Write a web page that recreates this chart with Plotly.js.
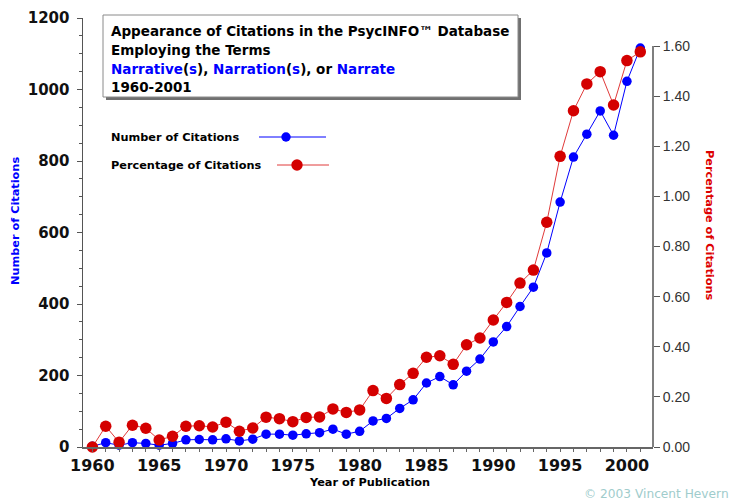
<!DOCTYPE html>
<html>
<head>
<meta charset="utf-8">
<script src="https://cdn.plot.ly/plotly-3.0.1.min.js"></script>
<style>
html,body{margin:0;padding:0;background:#fff;}
#chart{width:734px;height:500px;}
</style>
</head>
<body>
<div id="chart"></div>
<script>
// ---- data ----
var years = [1960,1961,1962,1963,1964,1965,1966,1967,1968,1969,1970,1971,1972,1973,1974,1975,1976,1977,1978,1979,1980,
             1981,1982,1983,1984,1985,1986,1987,1988,1989,1990,1991,1992,1993,1994,1995,1996,1997,1998,1999,2000,2001];
var citationCounts = [2,12,5,12,10,5,10,20,21,20,23,17,22,36,36,33,37,40,50,36,44,
                      73,80,108,132,179,197,174,212,246,294,337,393,447,543,685,811,875,940,872,1023,1116];
var citationPercents = [0.00,0.083,0.019,0.087,0.075,0.028,0.043,0.083,0.085,0.080,0.099,0.063,0.076,0.119,0.113,0.101,0.118,0.120,0.152,0.138,0.148,
                        0.225,0.194,0.249,0.294,0.358,0.364,0.330,0.408,0.435,0.507,0.577,0.654,0.706,0.897,1.160,1.342,1.449,1.498,1.365,1.542,1.577];
var xTickYears = [1960,1965,1970,1975,1980,1985,1990,1995,2000];
var leftTicks = [0,200,400,600,800,1000,1200];
var rightTicks = [0,0.2,0.4,0.6,0.8,1.0,1.2,1.4,1.6];
var seriesNames = ["Number of Citations","Percentage of Citations"];

// ---- geometry helpers (pixel -> paper) ----
var W = 734, H = 500;
var PL = 83, PR = 653, PT = 18, PB = 447;
function px(x){ return (x - PL) / (PR - PL); }
function py(y){ return (PB - y) / (PB - PT); }

var BLUE = '#0000ff', RED = '#d40000', REDLINE = '#e03a3a';
var F = 'DejaVu Sans, Verdana, sans-serif';

var traces = [
  {x: years, y: citationCounts, name: seriesNames[0], type: 'scatter', mode: 'lines+markers',
   line: {color: BLUE, width: 1}, marker: {color: BLUE, size: 9.5}, xaxis: 'x', yaxis: 'y', cliponaxis: false},
  {x: years, y: citationPercents, name: seriesNames[1], type: 'scatter', mode: 'lines+markers',
   line: {color: REDLINE, width: 1}, marker: {color: RED, size: 11.5}, xaxis: 'x', yaxis: 'y2', cliponaxis: false}
];

var shapes = [];
var annotations = [];

// title box with shadow
shapes.push({type:'rect', xref:'paper', yref:'paper', x0:px(106), x1:px(521), y0:py(100), y1:py(18),
             fillcolor:'#707070', line:{width:0}, layer:'above'});
shapes.push({type:'rect', xref:'paper', yref:'paper', x0:px(103), x1:px(518), y0:py(97), y1:py(15),
             fillcolor:'#ffffff', line:{color:'#8a8a8a', width:1}, layer:'above'});

function ann(text, x, y, opts){
  var a = {text: text, xref:'paper', yref:'paper', x: px(x), y: py(y), showarrow:false,
           xanchor:'left', yanchor:'middle', font:{family:F, size:13.5, color:'#000'}};
  for (var k in opts) a[k] = opts[k];
  annotations.push(a);
}
ann('<b>Appearance of Citations in the PsycINFO™ Database</b>', 109, 31);
ann('<b>Employing the Terms</b>', 109, 50);
var b = function(t){ return '<span style="color:#0000ff">' + t + '</span>'; };
ann('<b>' + b('Narrative') + '(' + b('s') + '), ' + b('Narration') + '(' + b('s') + '), or ' + b('Narrate') + '</b>', 109, 69);
ann('<b>1960-2001</b>', 109, 87);

// custom legend
var LF = 11.3;
ann('<b>' + seriesNames[0] + '</b>', 109, 137, {font:{family:F, size:LF, color:'#000'}});
ann('<b>' + seriesNames[1] + '</b>', 109, 165, {font:{family:F, size:LF, color:'#000'}});
shapes.push({type:'line', xref:'paper', yref:'paper', x0:px(259), x1:px(326), y0:py(137), y1:py(137), line:{color:BLUE, width:1}, layer:'above'});
shapes.push({type:'circle', xref:'paper', yref:'paper', x0:px(281.3), x1:px(290.7), y0:py(141.7), y1:py(132.3), fillcolor:BLUE, line:{width:0}, layer:'above'});
shapes.push({type:'line', xref:'paper', yref:'paper', x0:px(277), x1:px(329), y0:py(165), y1:py(165), line:{color:REDLINE, width:1}, layer:'above'});
shapes.push({type:'circle', xref:'paper', yref:'paper', x0:px(291.3), x1:px(302.7), y0:py(170.7), y1:py(159.3), fillcolor:RED, line:{width:0}, layer:'above'});

// right axis line (0 to 1.6 only)
shapes.push({type:'line', xref:'paper', yref:'y2', x0:1, x1:1, y0:0, y1:1.6, line:{color:'#555', width:1.5}});

// axis titles
ann('<b>Number of Citations</b>', 16, 221, {xanchor:'center', textangle:-90, font:{family:F, size:LF, color:BLUE}});
ann('<b>Percentage of Citations</b>', 710, 225, {xanchor:'center', textangle:90, font:{family:F, size:LF, color:'#dd0000'}});
ann('<b>Year of Publication</b>', 369, 482, {xanchor:'center', font:{family:F, size:LF, color:'#000'}});
ann('© 2003 Vincent Hevern', 731, 494, {xanchor:'right', font:{family:F, size:12.2, color:'#a0cccc'}});

var layout = {
  width: W, height: H,
  margin: {l: PL, r: W - PR, t: PT, b: H - PB, pad: 0},
  paper_bgcolor: '#fff', plot_bgcolor: 'rgba(0,0,0,0)',
  showlegend: false,
  xaxis: {range: [1959.3, 2001.95], showgrid: false, zeroline: false,
          showline: true, linecolor: '#666', linewidth: 2,
          tickmode: 'array', tickvals: xTickYears, ticktext: xTickYears.map(String),
          ticks: 'outside', ticklen: 3, tickcolor: '#666', tickwidth: 1,
          minor: {dtick: 1, tick0: 1960, ticks: 'outside', ticklen: 3, tickcolor: '#666'},
          tickfont: {family: F, size: 16, color: '#111', weight: 'bold'}},
  yaxis: {range: [0, 1200], showgrid: false, zeroline: false,
          showline: true, linecolor: '#555', linewidth: 1.5,
          tickmode: 'array', tickvals: leftTicks, ticktext: leftTicks.map(String),
          ticks: 'outside', ticklen: 5, tickcolor: '#555',
          minor: {dtick: 50, ticks: 'outside', ticklen: 3, tickcolor: '#555'},
          ticklabelstandoff: 4,
          tickfont: {family: F, size: 15, color: '#111', weight: 'bold'}},
  yaxis2: {range: [0, 1.712], overlaying: 'y', side: 'right', showgrid: false, zeroline: false,
           showline: false,
           tickmode: 'array', tickvals: rightTicks, ticktext: rightTicks.map(function(v){return v.toFixed(2);}),
           ticks: 'outside', ticklen: 6, tickcolor: '#555',
           tickfont: {family: 'Liberation Sans, Arial, sans-serif', size: 14, color: '#333'}},
  shapes: shapes,
  annotations: annotations
};

Plotly.newPlot('chart', traces, layout, {displayModeBar: false, staticPlot: true});
</script>
</body>
</html>
